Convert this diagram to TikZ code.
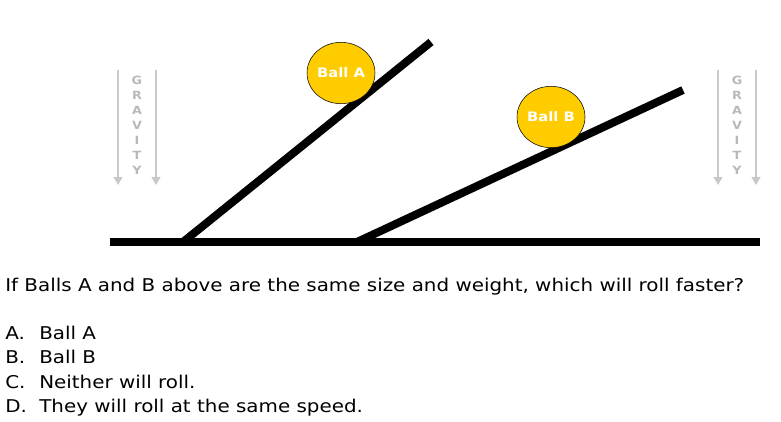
\documentclass[tikz,border=0pt]{standalone}
\usepackage{fontspec}
\setmainfont{DejaVu Sans}[FakeStretch=1.13]
\usetikzlibrary{arrows.meta,positioning,shapes.geometric}
\definecolor{ball}{RGB}{255,204,0}
\definecolor{grav}{RGB}{200,200,200}
\definecolor{gravtxt}{RGB}{185,185,185}
\tikzset{
  rail/.style={line width=6pt,black},
  ballnode/.style={ellipse,draw=black,fill=ball,minimum width=51pt,minimum height=46pt,
    inner sep=0pt,font=\fontsize{9.8}{11}\selectfont\bfseries,text=white},
  gline/.style={-{Triangle[length=6pt,width=6.5pt]},line width=2.2pt,grav},
  gtext/.style={align=center,font=\fontsize{8.5}{11.3}\selectfont\bfseries,text=gravtxt,inner sep=0pt},
  qtext/.style={anchor=base west,inner sep=0pt,font=\fontsize{13.2}{15}\selectfont},
}

\begin{document}
\begin{tikzpicture}[x=0.75pt,y=-0.75pt]
\useasboundingbox (0,0) rectangle (781,421);
% ground and ramps
\coordinate (g1) at (110,242); \coordinate (g2) at (760,242);
\coordinate (a1) at (183,242); \coordinate (a2) at (431,42);
\coordinate (b1) at (357,242); \coordinate (b2) at (683,90);
\draw[rail] (g1)--(g2);
\draw[rail] (a1)--(a2);
\draw[rail] (b1)--(b2);
% balls
\node[ballnode] (ballA) at (341,73) {Ball A};
\node[ballnode] (ballB) at (551,117) {Ball B};
% gravity, left
\coordinate (l1t) at (118,70); \coordinate (l1b) at (118,185);
\coordinate (l2t) at (156,70); \coordinate (l2b) at (156,185);
\draw[gline] (l1t)--(l1b); \draw[gline] (l2t)--(l2b);
\node[gtext] (gravL) at (137,125) {G\\R\\A\\V\\I\\T\\Y};
% gravity, right
\coordinate (r1t) at (718,70); \coordinate (r1b) at (718,185);
\coordinate (r2t) at (756,70); \coordinate (r2b) at (756,185);
\draw[gline] (r1t)--(r1b); \draw[gline] (r2t)--(r2b);
\node[gtext] (gravR) at (737,125) {G\\R\\A\\V\\I\\T\\Y};
% question and answers
\node[qtext] (q) at (5,291) {If Balls A and B above are the same size and weight, which will roll faster?};
\node[qtext] (oA) at (5,339) {A.}; \node[qtext] (tA) at (39,339) {Ball A};
\node[qtext] (oB) at (5,363) {B.}; \node[qtext] (tB) at (39,363) {Ball B};
\node[qtext] (oC) at (5,388) {C.}; \node[qtext] (tC) at (39,388) {Neither will roll.};
\node[qtext] (oD) at (5,412) {D.}; \node[qtext] (tD) at (39,412) {They will roll at the same speed.};
\end{tikzpicture}
\end{document}
